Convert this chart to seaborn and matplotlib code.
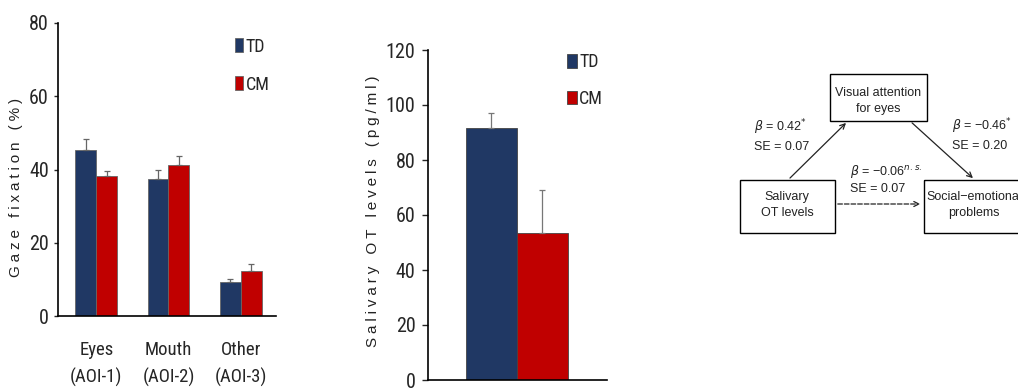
import pandas as pd
import seaborn as sns
import matplotlib.pyplot as plt
from matplotlib import font_manager
from matplotlib.patches import Rectangle

# fonts: prefer a narrow sans for the tick labels if one is installed
names = {f.name for f in font_manager.fontManager.ttflist}
narrow = 'Liberation Sans'
for cand in ['Liberation Sans Narrow', 'Arial Narrow', 'Roboto Condensed', 'Open Sans Condensed']:
    if cand in names:
        narrow = cand
        break

# data: gaze fixation per area of interest
regions = ['Eyes\n(AOI-1)', 'Mouth\n(AOI-2)', 'Other\n(AOI-3)']
groups = ['TD', 'CM']
gaze_td = [45.4, 37.4, 9.3]
gaze_cm = [38.1, 41.3, 12.4]
gaze_err_td = [2.9, 2.5, 0.9]
gaze_err_cm = [1.6, 2.3, 1.7]

# data: salivary oxytocin
ot_mean = [91.8, 53.6]
ot_err = [5.2, 15.6]

colors = {'TD': '#203864', 'CM': '#c00000'}

# mediation diagram text
node_labels = ['Visual attention\nfor eyes', 'Salivary\nOT levels', 'Social\u2212emotional\nproblems']
path_a = '$\\beta$ = 0.42$^{*}$\nSE = 0.07'
path_b = '$\\beta$ = \u22120.46$^{*}$\nSE = 0.20'
path_c = '$\\beta$ = \u22120.06$^{n.s.}$\nSE = 0.07'


def spaced(s):
    # letter-spaced axis titles, as in the original figure
    return '\u2005'.join(s)


sns.set_style('white')
plt.rcParams['font.family'] = [narrow, 'DejaVu Sans']
plt.rcParams['mathtext.fontset'] = 'dejavusans'

fig = plt.figure(figsize=(10.18, 3.89), dpi=100)
label_font = dict(fontsize=11, family=['Liberation Sans', 'DejaVu Sans'], color='#222222')

# ---- panel 1 ----
df1 = pd.DataFrame({
    'Region': regions * 2,
    'Group': ['TD'] * 3 + ['CM'] * 3,
    'Gaze': gaze_td + gaze_cm,
})
ax1 = fig.add_axes([58 / 1018, 73 / 389, 218 / 1018, 293 / 389])
sns.barplot(data=df1, x='Region', y='Gaze', hue='Group', hue_order=groups,
            palette=colors, width=0.58, errorbar=None, saturation=1,
            edgecolor='#666666', linewidth=0.6, ax=ax1)
for cont, errs in zip(ax1.containers, [gaze_err_td, gaze_err_cm]):
    for bar, e in zip(cont, errs):
        x = bar.get_x() + bar.get_width() / 2
        ax1.errorbar(x, bar.get_height(), yerr=[[0], [e]], fmt='none',
                     ecolor='#666666', elinewidth=0.9, capsize=2.5, capthick=0.9)
ax1.set_ylim(0, 80)
ax1.set_xlim(-0.53, 2.49)
ax1.set_yticks([0, 20, 40, 60, 80])
ax1.set_xlabel('')
ax1.set_ylabel(spaced('Gaze fixation (%)'), **label_font)
ax1.yaxis.set_label_coords(-0.16, 0.44)
ax1.tick_params(axis='y', length=3, width=1, pad=3.5, labelsize=14.5, left=True)
ax1.tick_params(axis='x', length=0, pad=18, labelsize=13.5)
for lab in ax1.get_xticklabels():
    lab.set_linespacing(1.6)
sns.despine(ax=ax1)
for s in ['left', 'bottom']:
    ax1.spines[s].set_linewidth(1.2)
    ax1.spines[s].set_color('black')
ax1.legend(loc='upper left', bbox_to_anchor=(0.81, 0.95), frameon=False,
           fontsize=13, handlelength=0.45, handleheight=0.8, handletextpad=0.15,
           labelspacing=1.1, borderpad=0, borderaxespad=0)

# ---- panel 2 ----
df2 = pd.DataFrame({'Group': groups, 'OT': ot_mean, 'x': ['', '']})
ax2 = fig.add_axes([428 / 1018, 9 / 389, 179 / 1018, 330 / 389])
sns.barplot(data=df2, x='x', y='OT', hue='Group', hue_order=groups,
            palette=colors, width=0.8, errorbar=None, saturation=1,
            edgecolor='#444444', linewidth=0.6, ax=ax2)
for cont, e in zip(ax2.containers, ot_err):
    bar = cont[0]
    x = bar.get_x() + bar.get_width() / 2
    ax2.errorbar(x, bar.get_height(), yerr=[[0], [e]], fmt='none',
                 ecolor='#777777', elinewidth=0.9, capsize=2.5, capthick=0.9)
ax2.set_ylim(0, 120)
ax2.set_xlim(-0.698, 0.706)
ax2.set_yticks([0, 20, 40, 60, 80, 100, 120])
ax2.set_xlabel('')
ax2.set_xticks([])
ax2.set_ylabel(spaced('Salivary OT levels (pg/ml)'), **label_font)
ax2.yaxis.set_label_coords(-0.268, 0.512)
ax2.tick_params(axis='y', length=4, width=1, pad=5, labelsize=14.5, left=True)
sns.despine(ax=ax2)
for s in ['left', 'bottom']:
    ax2.spines[s].set_linewidth(1.2)
    ax2.spines[s].set_color('black')
ax2.legend(loc='upper left', bbox_to_anchor=(0.775, 0.99), frameon=False,
           fontsize=13, handlelength=0.55, handleheight=0.8, handletextpad=0.15,
           labelspacing=1.02, borderpad=0, borderaxespad=0)

# ---- panel 3: mediation diagram ----
ax3 = fig.add_axes([0, 0, 1, 1])
ax3.set_xlim(0, 1018)
ax3.set_ylim(389, 0)
ax3.set_axis_off()
ax3.patch.set_alpha(0)

dfont = dict(family=['Liberation Sans', 'DejaVu Sans'], fontsize=9, color='#222222')
boxes = [(830, 74, 97, 47), (740, 180, 95, 53), (924, 180, 110, 53)]
centers = [(878, 101), (787, 205), (974, 205)]
for (bx, by, bw, bh), (cx, cy), lab in zip(boxes, centers, node_labels):
    ax3.add_patch(Rectangle((bx, by), bw, bh, fill=False, lw=1, ec='black'))
    ax3.text(cx, cy, lab, ha='center', va='center', linespacing=1.5, **dfont)

arrow = dict(arrowstyle='->', lw=0.9, color='#222222', mutation_scale=9)
ax3.annotate('', xy=(848, 121), xytext=(788, 180), arrowprops=arrow)
ax3.annotate('', xy=(975, 180), xytext=(910, 121), arrowprops=arrow)
ax3.annotate('', xy=(923, 204), xytext=(835, 204),
             arrowprops=dict(arrow, linestyle='--'))

ax3.text(754, 135, path_a, ha='left', va='center', linespacing=1.4, **dfont)
ax3.text(952, 134, path_b, ha='left', va='center', linespacing=1.4, **dfont)
ax3.text(850, 179, path_c, ha='left', va='center', linespacing=1.4, **dfont)

fig.savefig('out.png', dpi=100)
